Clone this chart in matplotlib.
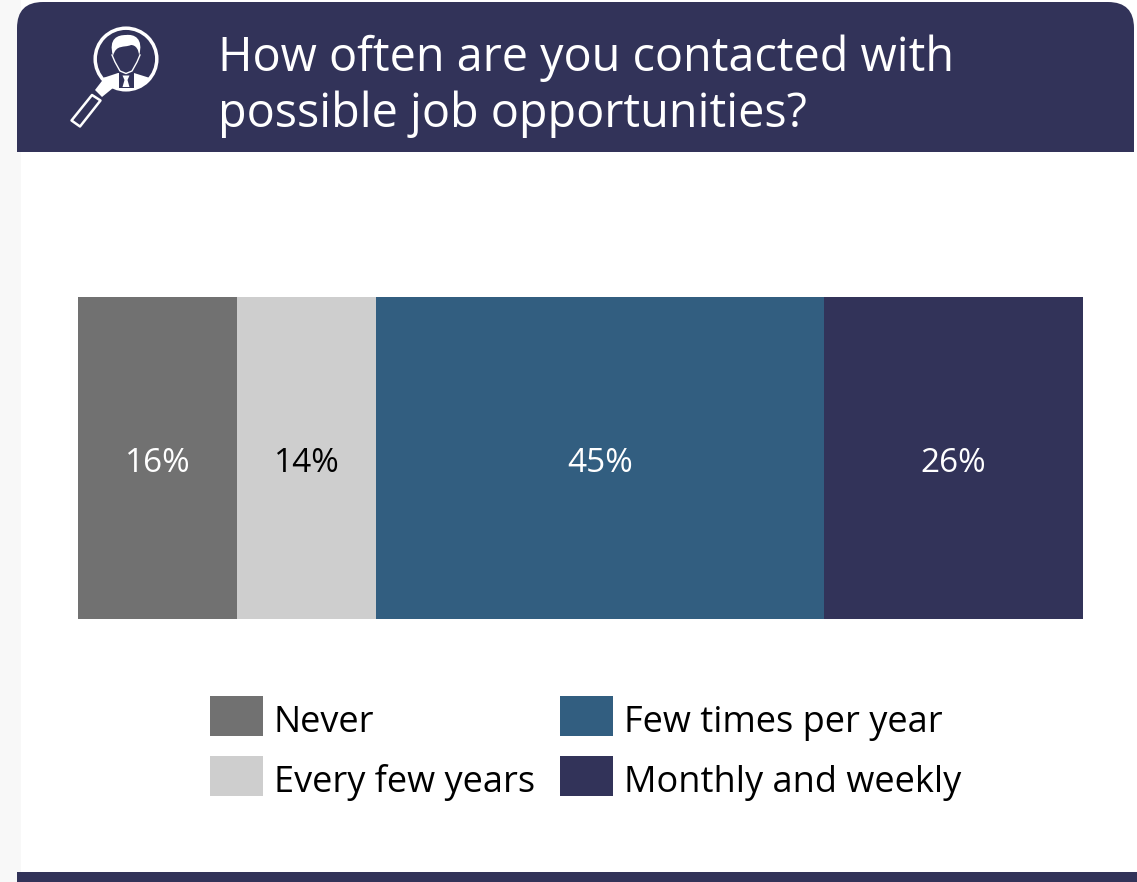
import matplotlib
matplotlib.use("Agg")
import matplotlib.pyplot as plt
from matplotlib.patches import Rectangle, FancyBboxPatch, Circle, Polygon, PathPatch
from matplotlib.path import Path

W, H = 1137, 882
NAVY = "#323359"
FONT = {"family": "Open Sans"}

categories = ["Never", "Every few years", "Few times per year", "Monthly and weekly"]
values = [16, 14, 45, 26]
colors = ["#717171", "#cecece", "#325e80", NAVY]
label_colors = ["white", "black", "white", "white"]
title_lines = ["How often are you contacted with", "possible job opportunities?"]

fig = plt.figure(figsize=(W / 100, H / 100), dpi=100, facecolor="white")


def px_axes(x0, y0, x1, y1, **kw):
    return fig.add_axes([x0 / W, 1 - y1 / H, (x1 - x0) / W, (y1 - y0) / H], **kw)


# Page furniture in pixel coordinates
bg = px_axes(0, 0, W, H)
bg.set_xlim(0, W)
bg.set_ylim(H, 0)
bg.axis("off")
bg.add_patch(Rectangle((0, 0), 21, H, fc="#f8f8f8", ec="none"))
bg.add_patch(FancyBboxPatch((17, 2), 1117, 300, boxstyle="round,pad=0,rounding_size=26",
                            fc=NAVY, ec="none"))
bg.add_patch(Rectangle((0, 152), W, 200, fc="white", ec="none"))
bg.add_patch(Rectangle((0, 152), 21, 200, fc="#f8f8f8", ec="none"))
bg.add_patch(Rectangle((17, 872), 1120, 10, fc=NAVY, ec="none"))

# Magnifier icon with a portrait inside the lens
lens_xy, lens_r = (126, 59), 30.8
bg.add_patch(Circle(lens_xy, lens_r, fc="none", ec="white", lw=2.5))

# shoulders, clipped to the lens
body = Polygon([(90, 96), (103, 78), (118, 73), (134, 73), (150, 78), (162, 96)], fc="white", ec="none")
bg.add_patch(body)
body.set_clip_path(Circle(lens_xy, lens_r, transform=bg.transData))

# shirt panel and tie
bg.add_patch(Polygon([(118.5, 73), (133.5, 73), (133.5, 88), (118.5, 88)], fc=NAVY, ec="none"))
bg.add_patch(Polygon([(122.5, 75.5), (129.5, 75.5), (127.5, 80), (129.5, 87), (122.5, 87), (124.5, 80)],
                     fc="white", ec="none"))

# jaw line
bg.plot([112, 115, 120, 126, 132, 137, 140], [55, 62, 71, 73.5, 71, 62, 55], color="white", lw=1.0)

# hair
hair = Path([(113, 56), (108, 38), (118, 35), (126, 35),
             (134, 34), (144, 38), (139, 56),
             (139, 50), (136, 45), (131, 45),
             (124, 48), (116, 44), (113, 56)],
            [Path.MOVETO] + [Path.CURVE4] * 12)
bg.add_patch(PathPatch(hair, fc="white", ec="none"))

# collar joining the lens to the handle, then the handle outline
bg.add_patch(Polygon([(105, 77), (113, 88), (102, 97), (95, 90)], fc="white", ec="none"))
bg.add_patch(Polygon([(92, 95), (100.5, 100.5), (80, 126.5), (71.5, 120.5)], closed=True, fc=NAVY, ec="white",
                     lw=1.8, joinstyle="round"))

for line, y in zip(title_lines, (70.5, 127.5)):
    bg.text(217.5, y, line, color="white", fontsize=33.7, va="baseline", ha="left", **FONT)

# Stacked bar
ax = px_axes(78, 297, 1082.7, 619)
ax.set_xlim(0, sum(values))
ax.set_ylim(0, 1)
ax.axis("off")
left = 0
handles = []
for name, v, c, lc in zip(categories, values, colors, label_colors):
    bar = ax.barh(0.5, v, left=left, height=1, color=c, label=name)
    handles.append(bar)
    ax.text(left + v / 2, 0.482, f"{v}%", ha="center", va="center", color=lc, fontsize=24, **FONT)
    left += v

# Two-column legend below the bar
fs = 26
fpx = fs * 100 / 72
leg = fig.legend(handles=[h[0] for h in handles], labels=categories, ncols=2, frameon=False,
                 loc="center", bbox_to_anchor=(585.5 / W, 1 - 746.6 / H),
                 prop={"size": fs, **FONT},
                 handlelength=53 / fpx, handleheight=1.33,
                 handletextpad=11 / fpx, columnspacing=25 / fpx,
                 labelspacing=19 / fpx, borderpad=0)
# Lower the labels a touch relative to their swatches
for t in leg.get_texts():
    t.set_y(-3.5)

fig.savefig("out.png", dpi=100, facecolor="white")
